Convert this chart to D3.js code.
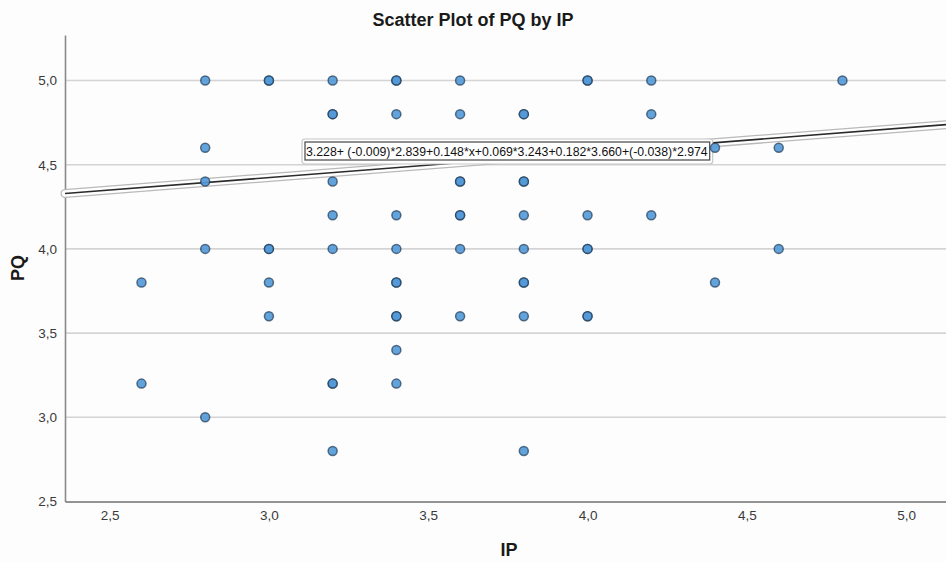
<!DOCTYPE html>
<html>
<head>
<meta charset="utf-8">
<script src="https://cdn.jsdelivr.net/npm/d3@7"></script>
<style>
  html, body { margin: 0; padding: 0; background: #fdfdfd; }
  svg { display: block; font-family: Arial, "Liberation Sans", sans-serif; }
</style>
</head>
<body>
<svg id="chart" width="946" height="562"></svg>
<script>
// Observed cases (IP, PQ); repeated pairs are listed once per case
const ipValues = [
  2.8, 3.0, 3.0, 3.2, 3.4, 3.4, 3.6, 4.0, 4.0, 4.2, 4.8,
  3.2, 3.2, 3.4, 3.6, 3.8, 3.8, 4.2,
  2.8, 4.4, 4.6,
  2.8, 3.2, 3.6, 3.6, 3.8, 3.8,
  3.2, 3.4, 3.6, 3.6, 3.8, 4.0, 4.2,
  2.8, 3.0, 3.0, 3.2, 3.4, 3.6, 3.8, 4.0, 4.0, 4.6,
  2.6, 3.0, 3.4, 3.4, 3.8, 3.8, 4.4,
  3.0, 3.4, 3.4, 3.6, 3.8, 4.0, 4.0,
  3.4,
  2.6, 3.2, 3.2, 3.4,
  2.8,
  3.2, 3.8
];
const pqValues = [
  5.0, 5.0, 5.0, 5.0, 5.0, 5.0, 5.0, 5.0, 5.0, 5.0, 5.0,
  4.8, 4.8, 4.8, 4.8, 4.8, 4.8, 4.8,
  4.6, 4.6, 4.6,
  4.4, 4.4, 4.4, 4.4, 4.4, 4.4,
  4.2, 4.2, 4.2, 4.2, 4.2, 4.2, 4.2,
  4.0, 4.0, 4.0, 4.0, 4.0, 4.0, 4.0, 4.0, 4.0, 4.0,
  3.8, 3.8, 3.8, 3.8, 3.8, 3.8, 3.8,
  3.6, 3.6, 3.6, 3.6, 3.6, 3.6, 3.6,
  3.4,
  3.2, 3.2, 3.2, 3.2,
  3.0,
  2.8, 2.8
];

// Fit-line coefficients: intercept, covariates held at their means, slope on IP
const intercept = 3.228;
const covariateCoefs = [-0.009, 0.069, 0.182, -0.038];
const covariateMeans = [2.839, 3.243, 3.660, 2.974];
const slopeIP = 0.148;

const xTicks = [2.5, 3.0, 3.5, 4.0, 4.5, 5.0];
const yTicks = [2.5, 3.0, 3.5, 4.0, 4.5, 5.0];

const chartTitle = "Scatter Plot of PQ by IP";
const xTitle = "IP";
const yTitle = "PQ";
const fitLabel = "3.228+ (-0.009)*2.839+0.148*x+0.069*3.243+0.182*3.660+(-0.038)*2.974";

const svg = d3.select("#chart");
const plot = { left: 65, right: 946, top: 35, bottom: 501.5 };

const x = d3.scaleLinear().domain([2.36, 5.125]).range([plot.left, plot.right]);
const y = d3.scaleLinear().domain([2.5, 5.27]).range([plot.bottom, plot.top]);

const locale = d3.formatLocale({ decimal: ",", thousands: ".", grouping: [3], currency: ["", ""] });
const fmt = locale.format(".1f");

// horizontal grid
svg.append("g")
  .selectAll("line")
  .data(yTicks.filter(d => d > 2.5))
  .join("line")
  .attr("x1", plot.left).attr("x2", plot.right)
  .attr("y1", d => y(d)).attr("y2", d => y(d))
  .attr("stroke", "#d4d4d6").attr("stroke-width", 1.6);

// axes
const yAxis = svg.append("g")
  .attr("transform", `translate(${plot.left},0)`)
  .call(d3.axisLeft(y).tickValues(yTicks).tickFormat(fmt).tickSize(0).tickPadding(8));
yAxis.select(".domain").attr("stroke", "#8a8a8a").attr("stroke-width", 1.6);
yAxis.selectAll("text").attr("font-size", 13.5).attr("fill", "#3a3a3a")
  .attr("font-family", "Arial, 'Liberation Sans', sans-serif");

const xAxis = svg.append("g")
  .attr("transform", `translate(0,${plot.bottom})`)
  .call(d3.axisBottom(x).tickValues(xTicks).tickFormat(fmt).tickSize(0).tickPadding(9));
xAxis.select(".domain").attr("stroke", "#6f6f6f").attr("stroke-width", 1.6);
xAxis.selectAll("text").attr("font-size", 13.5).attr("fill", "#3a3a3a")
  .attr("font-family", "Arial, 'Liberation Sans', sans-serif");

// fit line: selected-style halo with a dark centre stroke
const constTerm = intercept + d3.sum(covariateCoefs.map((c, i) => c * covariateMeans[i]));
const xDom = x.domain();
const fitPts = xDom.map(v => [x(v), y(constTerm + slopeIP * v)]);
const lineGen = d3.line();
svg.append("path").attr("d", lineGen(fitPts))
  .attr("fill", "none").attr("stroke", "#b9b9bb").attr("stroke-width", 9).attr("stroke-linecap", "round");
svg.append("path").attr("d", lineGen(fitPts))
  .attr("fill", "none").attr("stroke", "#ffffff").attr("stroke-width", 6.5).attr("stroke-linecap", "round");
svg.append("path").attr("d", lineGen(fitPts))
  .attr("fill", "none").attr("stroke", "#2b2b2b").attr("stroke-width", 1.6);

// fit-line label box
const lab = svg.append("g").attr("transform", "translate(306,156)");
const labText = lab.append("text")
  .attr("x", 0).attr("y", 0)
  .attr("font-size", 12.3).attr("fill", "#111")
  .text(fitLabel);
const tw = labText.node().getComputedTextLength();
lab.insert("rect", "text")
  .attr("x", -4).attr("y", -17).attr("width", tw + 9).attr("height", 25)
  .attr("rx", 3).attr("fill", "#ffffff").attr("stroke", "#c6c6c6").attr("stroke-width", 1.2);
lab.insert("rect", "text")
  .attr("x", -1).attr("y", -14).attr("width", tw + 3).attr("height", 18)
  .attr("fill", "none").attr("stroke", "#444").attr("stroke-width", 1.2);

// points
svg.append("g")
  .selectAll("circle")
  .data(ipValues.map((v, i) => ({ ip: v, pq: pqValues[i] })))
  .join("circle")
  .attr("cx", d => x(d.ip))
  .attr("cy", d => y(d.pq))
  .attr("r", 4.5)
  .attr("fill", "#5299d8")
  .attr("fill-opacity", 0.9)
  .attr("stroke", "#1f3a56")
  .attr("stroke-opacity", 0.7)
  .attr("stroke-width", 1.5);

// titles
svg.append("text")
  .attr("x", 473).attr("y", 26)
  .attr("text-anchor", "middle")
  .attr("font-size", 18).attr("font-weight", "bold").attr("fill", "#1a1a1a")
  .text(chartTitle);

svg.append("text")
  .attr("x", 509).attr("y", 556)
  .attr("text-anchor", "middle")
  .attr("font-size", 18).attr("font-weight", "bold").attr("fill", "#1a1a1a")
  .text(xTitle);

svg.append("text")
  .attr("transform", "translate(24,268) rotate(-90)")
  .attr("text-anchor", "middle")
  .attr("font-size", 18).attr("font-weight", "bold").attr("fill", "#1a1a1a")
  .text(yTitle);
</script>
</body>
</html>
